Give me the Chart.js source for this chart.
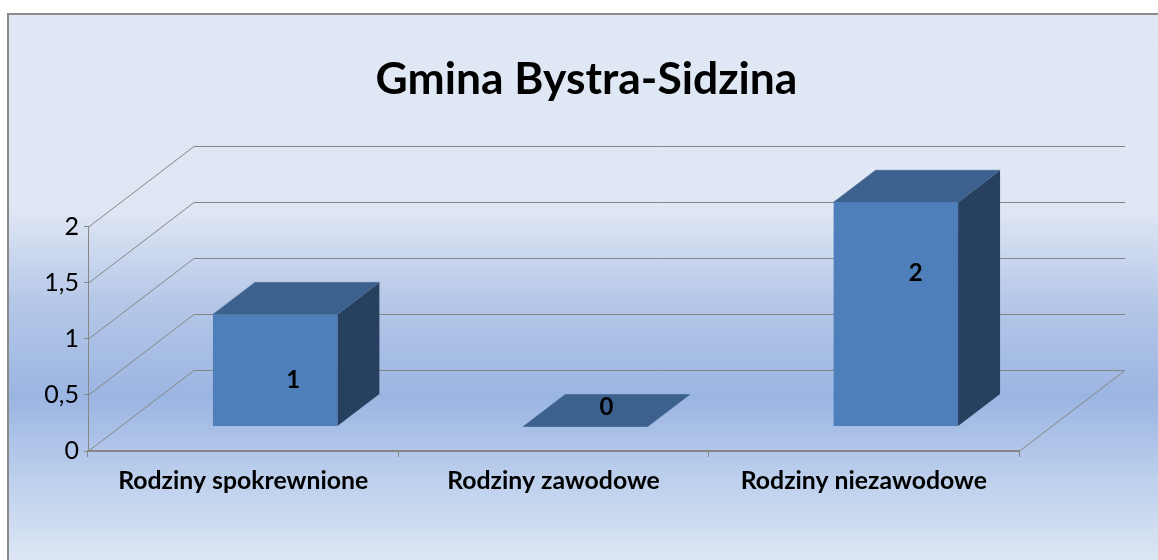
<!DOCTYPE html>
<html>
<head>
<meta charset="utf-8">
<title>Gmina Bystra-Sidzina</title>
<script src="https://cdn.jsdelivr.net/npm/chart.js@4"></script>
<style>
  html, body { margin: 0; padding: 0; background: #fff; }
  #wrap { width: 1158px; height: 560px; }
</style>
</head>
<body>
<div id="wrap"><canvas id="chart" width="1158" height="560"></canvas></div>
<script>
const CATEGORIES = ['Rodziny spokrewnione', 'Rodziny zawodowe', 'Rodziny niezawodowe'];
const VALUES = [1, 0, 2];
const Y_TICKS = [0, 0.5, 1, 1.5, 2];
const TITLE = 'Gmina Bystra-Sidzina';

// 3D look of the old Office chart
const WALL_DX = 106, WALL_DY = -81;     // floor depth
const BAR_DX = 32, BAR_DY = -24.5;      // bar sits inside the floor
const DEPTH_DX = 42, DEPTH_DY = -32;    // bar depth
const LABEL_NUDGE = [[18, 10], [21, -19], [20, -41]];
const TITLE_CENTER = 586.5;

const FONT = 'Lato, Carlito, "Open Sans", sans-serif';
const GRID = '#868686';
const FRONT = '#4e7fba', TOP = '#3c618e', SIDE = '#28405f', EDGE = '#45698f';

function poly(ctx, pts, fill, stroke) {
  ctx.beginPath();
  pts.forEach((p, i) => i ? ctx.lineTo(p[0], p[1]) : ctx.moveTo(p[0], p[1]));
  ctx.closePath();
  ctx.fillStyle = fill;
  ctx.fill();
  if (stroke) { ctx.strokeStyle = stroke; ctx.lineWidth = 0.75; ctx.stroke(); }
}

const backdrop = {
  id: 'backdrop',
  afterLayout(chart) {
    // title is centred on the plot with its depth, not on the front plane
    const tb = chart.titleBlock;
    tb.right = 2 * TITLE_CENTER - tb.left;
  },
  beforeDraw(chart) {
    const { ctx, width, height } = chart;
    const g = ctx.createLinearGradient(0, 14, 0, 560);
    g.addColorStop(0, '#e1e8f5');
    g.addColorStop(0.36, '#dfe6f4');
    g.addColorStop(0.524, '#b6c8e8');
    g.addColorStop(0.70, '#9bb5e2');
    g.addColorStop(0.85, '#bccfec');
    g.addColorStop(1, '#dde6f4');
    ctx.save();
    ctx.fillStyle = '#fff';
    ctx.fillRect(0, 0, width, height);
    ctx.fillStyle = g;
    ctx.fillRect(8, 14, width - 8, height - 14);
    ctx.strokeStyle = '#8a8a8a';
    ctx.lineWidth = 2;
    ctx.beginPath();
    ctx.moveTo(8, height);
    ctx.lineTo(8, 14);
    ctx.lineTo(width, 14);
    ctx.stroke();
    ctx.restore();
  },
};

// back wall, side wall and floor, positioned by the value scale
const walls = {
  id: 'walls',
  beforeDatasetsDraw(chart) {
    const { ctx, scales: { y }, chartArea: a } = chart;
    ctx.save();
    ctx.strokeStyle = GRID;
    ctx.lineWidth = 1;
    Y_TICKS.forEach(t => {
      const py = Math.round(y.getPixelForValue(t)) + 0.5;
      ctx.beginPath();
      ctx.moveTo(a.left, py);
      ctx.lineTo(a.left + WALL_DX, py + WALL_DY);
      ctx.lineTo(a.right + WALL_DX, py + WALL_DY);
      ctx.stroke();
    });
    const py0 = Math.round(y.getPixelForValue(0)) + 0.5;
    ctx.beginPath();
    ctx.moveTo(a.right, py0);
    ctx.lineTo(a.right + WALL_DX, py0 + WALL_DY);
    ctx.stroke();
    ctx.restore();
  },
};

// side and top faces go under the front face the library draws
const box3d = {
  id: 'box3d',
  beforeDatasetDraw(chart, args) {
    const { ctx } = chart;
    const bars = args.meta.data;
    bars.forEach(b => {
      const half = b.width / 2;
      const l = b.x - half + BAR_DX, r = b.x + half + BAR_DX;
      const t = b.y + BAR_DY, bot = b.base + BAR_DY;
      poly(ctx, [[r, t], [r + DEPTH_DX, t + DEPTH_DY], [r + DEPTH_DX, bot + DEPTH_DY], [r, bot]], SIDE);
      poly(ctx, [[l, t], [l + DEPTH_DX, t + DEPTH_DY], [r + DEPTH_DX, t + DEPTH_DY], [r, t]], TOP, EDGE);
    });
    ctx.save();
    ctx.translate(BAR_DX, BAR_DY);
  },
  afterDatasetDraw(chart) {
    chart.ctx.restore();
  },
  afterDatasetsDraw(chart) {
    const { ctx } = chart;
    const bars = chart.getDatasetMeta(0).data;
    ctx.save();
    ctx.fillStyle = '#000';
    ctx.font = 'bold 24px ' + FONT;
    ctx.textAlign = 'center';
    ctx.textBaseline = 'middle';
    bars.forEach((b, i) => {
      const mid = (b.y + b.base) / 2 + BAR_DY;
      ctx.fillText(String(VALUES[i]), b.x + BAR_DX + LABEL_NUDGE[i][0], mid + LABEL_NUDGE[i][1]);
    });
    ctx.restore();
  },
};

new Chart(document.getElementById('chart'), {
  type: 'bar',
  data: {
    labels: CATEGORIES,
    datasets: [{
      data: VALUES,
      backgroundColor: FRONT,
      borderWidth: 0,
      barPercentage: 0.401,
      categoryPercentage: 1,
      clip: false,
    }],
  },
  plugins: [backdrop, walls, box3d],
  options: {
    responsive: false,
    animation: false,
    layout: { padding: { left: 8, right: 139, top: 0, bottom: 0 } },
    plugins: {
      legend: { display: false },
      tooltip: { enabled: false },
      title: {
        display: true,
        text: TITLE,
        color: '#000',
        font: { family: FONT, size: 44.4, weight: 'bold' },
        padding: { top: 53.5, bottom: 120 },
      },
    },
    scales: {
      x: {
        afterFit: s => { s.height = 109; },
        grid: { drawOnChartArea: false, color: GRID, tickLength: 6 },
        border: { color: GRID, width: 2 },
        ticks: { color: '#000', font: { family: FONT, size: 24.8, weight: 'bold' }, padding: 9, maxRotation: 0 },
      },
      y: {
        min: 0,
        max: 2,
        afterFit: s => { s.width = 80; },
        afterBuildTicks: s => { s.ticks = Y_TICKS.map(v => ({ value: v })); },
        grid: { drawOnChartArea: false, color: GRID, tickLength: 4 },
        border: { color: GRID, width: 1 },
        ticks: {
          color: '#000',
          font: { family: FONT, size: 25 },
          padding: 5,
          callback: v => String(v).replace('.', ','),
        },
      },
    },
  },
});
</script>
</body>
</html>
